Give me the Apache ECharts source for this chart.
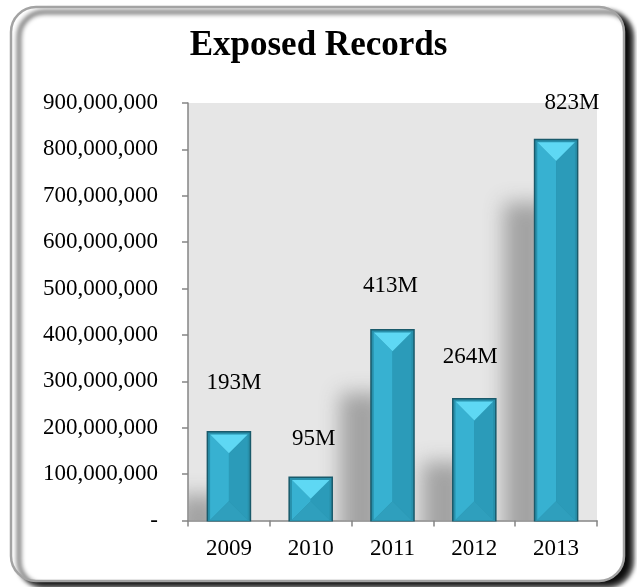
<!DOCTYPE html>
<html>
<head>
<meta charset="utf-8">
<title>Exposed Records</title>
<script src="https://cdn.jsdelivr.net/npm/echarts@6/dist/echarts.min.js"></script>
<style>
  html, body { margin: 0; padding: 0; background: #ffffff; }
  #chart { width: 637px; height: 587px; }
</style>
</head>
<body>
<div id="chart"></div>
<script>
// Records exposed per year
const categories = ['2009', '2010', '2011', '2012', '2013'];
const exposedRecords = [193e6, 95e6, 413e6, 264e6, 823e6];
const yTickLabels = ['-', '100,000,000', '200,000,000', '300,000,000', '400,000,000',
  '500,000,000', '600,000,000', '700,000,000', '800,000,000', '900,000,000'];

// Hand placement of each value label relative to the top-centre of its bar
const labelNudge = [[5, -48], [3, -38], [-2, -43], [-4, -41], [16, -36]];

const SERIF = '"Liberation Serif", "Times New Roman", serif';
const BAR_RATIO = 0.545;
const OFF = 2000; // shadow source shape is drawn off-canvas, only its blur lands

const seriesData = exposedRecords.map((v, i) => [i, v]);

function fmtM(v) { return Math.round(v / 1e6) + 'M'; }

// Soft grey cast shadow behind each bar
function renderShadow(params, api) {
  const i = api.value(0), v = api.value(1);
  const top = api.coord([i, v]);
  const base = api.coord([i, 0]);
  const w = api.size([1, 0])[0] * BAR_RATIO;
  const x = top[0] - w / 2 - 30;
  const y = top[1] + 64;
  if (y > base[1] + 6) return null;
  return {
    type: 'rect',
    shape: { x: x + OFF, y: y, width: w, height: base[1] - y + 30 },
    style: {
      fill: '#000',
      shadowBlur: 20,
      shadowColor: 'rgba(150,150,150,0.85)',
      shadowOffsetX: -OFF,
      shadowOffsetY: 0
    }
  };
}

// Bevelled bar: dark rim, inner band, four facets, plus the value label
function renderBar(params, api) {
  const i = api.value(0), v = api.value(1);
  const top = api.coord([i, v]);
  const base = api.coord([i, 0]);
  const w = api.size([1, 0])[0] * BAR_RATIO;
  const x0 = top[0] - w / 2, x1 = top[0] + w / 2;
  const y0 = top[1], y1 = base[1] + 1;
  const ix0 = x0 + 3.5, ix1 = x1 - 3.5, iy0 = y0 + 3.5, iy1 = y1 - 1.5;
  const xm = (ix0 + ix1) / 2;
  const d = Math.min((ix1 - ix0) / 2, (iy1 - iy0) / 2);
  const nudge = labelNudge[i];
  return {
    type: 'group',
    children: [
      { type: 'rect', shape: { x: x0, y: y0, width: w, height: y1 - y0 },
        style: { fill: '#1a5a6b' } },
      { type: 'rect', shape: { x: x0 + 1.5, y: y0 + 1.5, width: w - 3, height: y1 - y0 - 2 },
        style: { fill: '#2890ab' } },
      { type: 'polygon', shape: { points: [[ix0, iy0], [xm, iy0 + d], [xm, iy1 - d], [ix0, iy1]] },
        style: { fill: '#37b1d1' } },
      { type: 'polygon', shape: { points: [[ix1, iy0], [xm, iy0 + d], [xm, iy1 - d], [ix1, iy1]] },
        style: { fill: '#2b9bb9' } },
      { type: 'polygon', shape: { points: [[ix0, iy1], [ix1, iy1], [xm, iy1 - d]] },
        style: { fill: '#2f9fbd' } },
      { type: 'polygon', shape: { points: [[ix0, iy0], [ix1, iy0], [xm, iy0 + d]] },
        style: { fill: '#5ed8f4' } },
      { type: 'text', x: top[0] + nudge[0], y: top[1] + nudge[1],
        style: { text: fmtM(v), fill: '#000', font: '23px ' + SERIF,
          align: 'center', verticalAlign: 'middle',
          textAlign: 'center', textVerticalAlign: 'middle' } }
    ]
  };
}

const chart = echarts.init(document.getElementById('chart'), null, { renderer: 'canvas' });

chart.setOption({
  animation: false,
  backgroundColor: '#ffffff',
  graphic: [{
    type: 'rect',
    z: -10,
    shape: { x: 11, y: 7, width: 613, height: 574, r: 25 },
    style: {
      fill: '#ffffff',
      stroke: '#a3a3a3',
      lineWidth: 2.5,
      shadowBlur: 5,
      shadowOffsetX: 8,
      shadowOffsetY: 5,
      shadowColor: 'rgba(0,0,0,0.95)'
    }
  }],
  title: {
    text: 'Exposed Records',
    left: 'center',
    top: 28,
    padding: 0,
    textStyle: { fontFamily: SERIF, fontSize: 35, fontWeight: 'bold', color: '#000' }
  },
  grid: {
    left: 188, top: 103, width: 409, height: 417.6,
    show: true, backgroundColor: '#e6e6e6', borderWidth: 0
  },
  xAxis: {
    type: 'category',
    data: categories,
    boundaryGap: true,
    axisLine: { lineStyle: { color: '#858585', width: 1.5 } },
    axisTick: { show: true, length: 6, lineStyle: { color: '#858585', width: 1.5 } },
    axisLabel: { margin: 17, fontFamily: SERIF, fontSize: 23, color: '#000' }
  },
  yAxis: {
    type: 'value',
    min: 0, max: 900e6, interval: 100e6,
    splitLine: { show: false },
    axisLine: { show: true, lineStyle: { color: '#858585', width: 1.5 } },
    axisTick: { show: true, length: 6, lineStyle: { color: '#858585', width: 1.5 } },
    axisLabel: {
      margin: 30, fontFamily: SERIF, fontSize: 23, color: '#000',
      formatter: (val, idx) => yTickLabels[Math.round(val / 100e6)]
    }
  },
  series: [
    { type: 'custom', name: 'cast shadow', clip: true, z: 1, silent: true,
      renderItem: renderShadow, data: seriesData },
    { type: 'custom', name: 'Exposed Records', clip: false, z: 3,
      renderItem: renderBar, data: seriesData }
  ]
});
</script>
</body>
</html>
